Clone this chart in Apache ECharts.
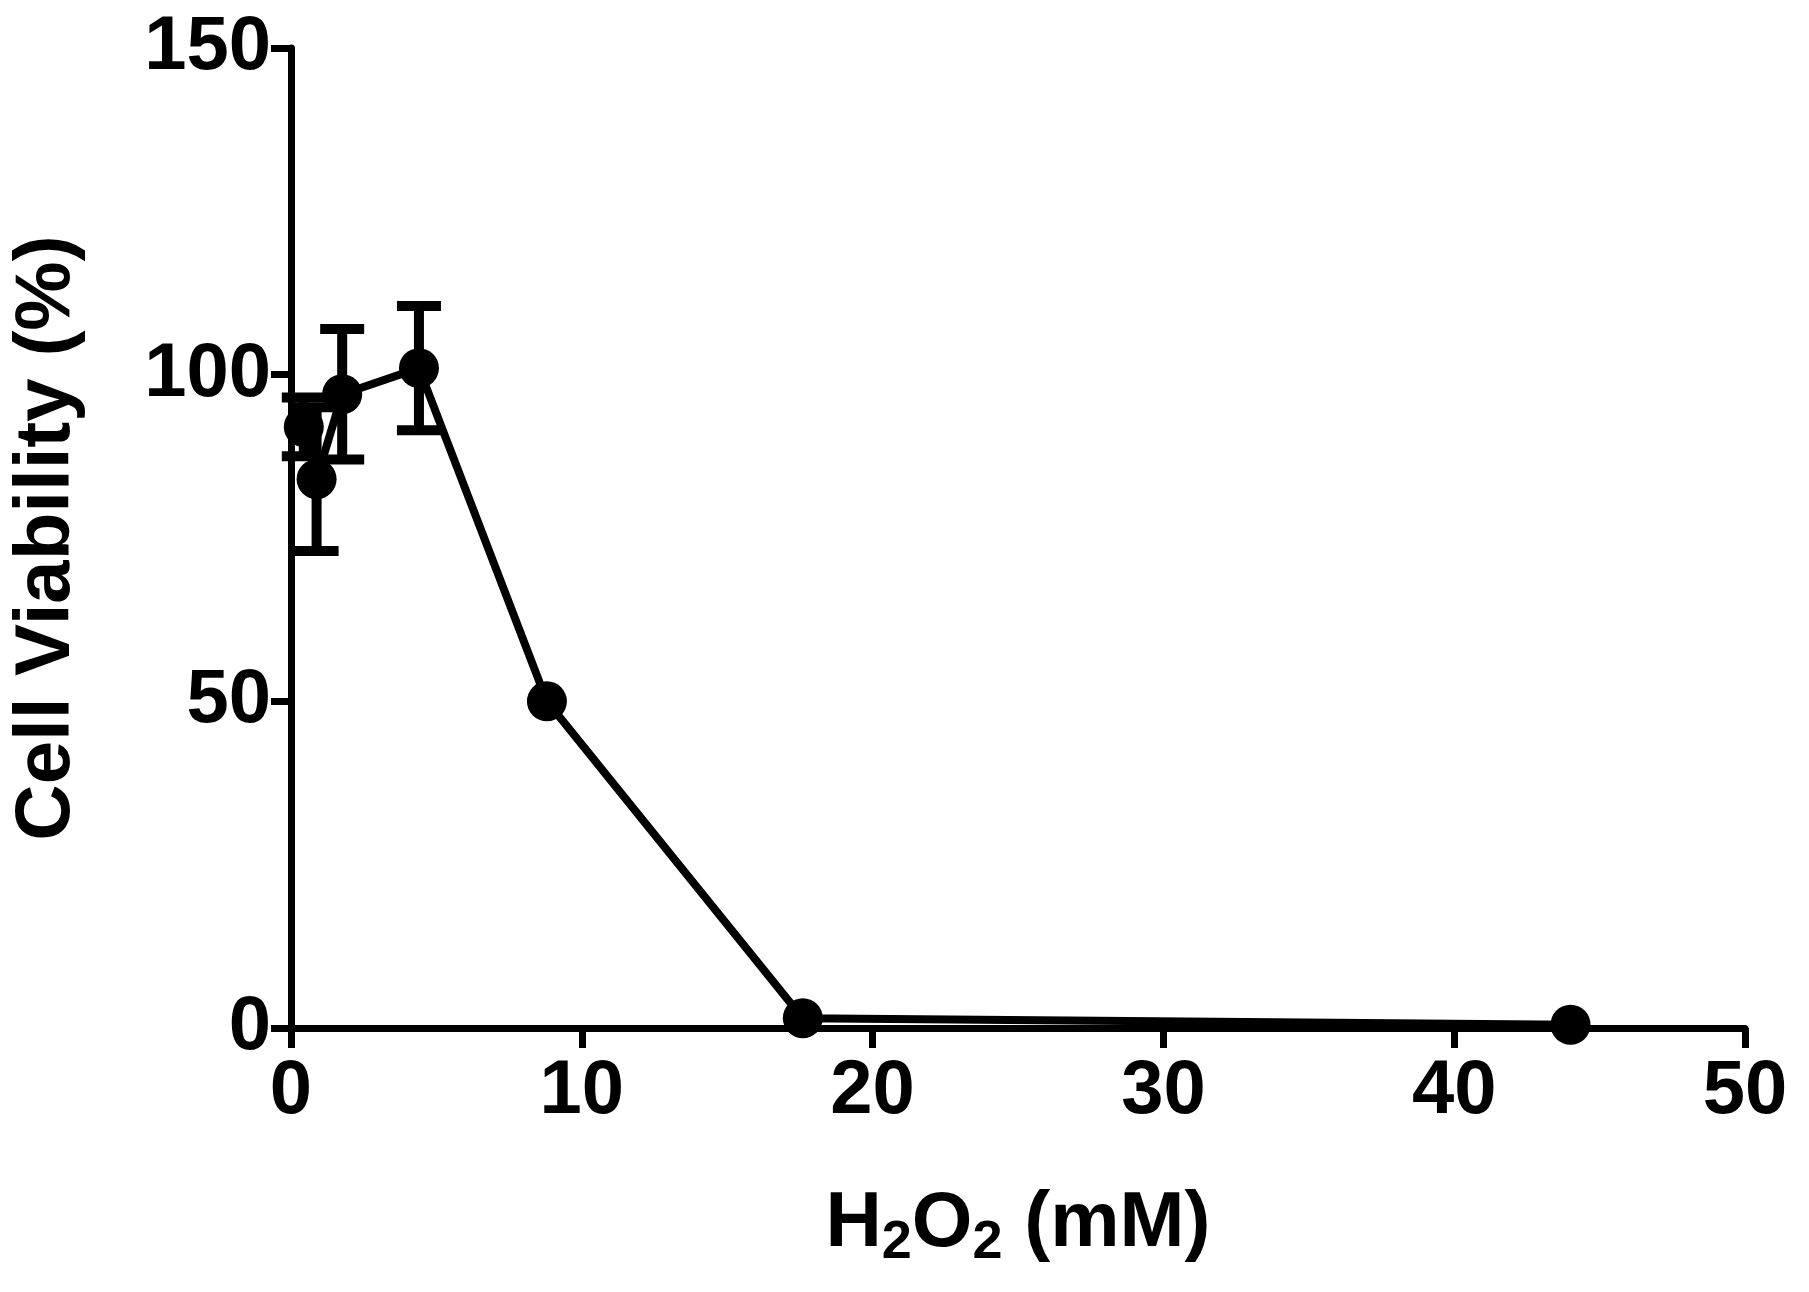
<!DOCTYPE html>
<html>
<head>
<meta charset="utf-8">
<script src="https://cdn.jsdelivr.net/npm/echarts@6/dist/echarts.min.js"></script>
<style>html,body{margin:0;padding:0;background:#fff}#c{width:1809px;height:1292px}</style>
</head>
<body>
<div id="c"></div>
<script>
var conc=[0.44,0.88,1.76,4.4,8.8,17.6,44];
var viability=[92,84,97,101,50,1.5,0.5];
var sem=[4.5,11,10,9.5,0,0,0];
var xTicks=[0,10,20,30,40,50];
var yTicks=[0,50,100,150];

var chart=echarts.init(document.getElementById('c'));
var pts=conc.map(function(x,i){return [x,viability[i]];});
var errs=conc.map(function(x,i){return [x,viability[i]-sem[i],viability[i]+sem[i]];}).filter(function(d,i){return sem[i]>0;});
var font='Liberation Sans';
chart.setOption({
  animation:false,
  grid:{left:284,right:64,top:48,bottom:264},
  xAxis:{type:'value',min:0,max:50,interval:10,
    name:'{a|H}{s|2}{a|O}{s|2}{a| (mM)}',nameLocation:'middle',nameGap:150,
    nameTextStyle:{rich:{a:{fontFamily:font,fontWeight:'bold',fontSize:78,color:'#000'},
      s:{fontFamily:font,fontWeight:'bold',fontSize:54,color:'#000',verticalAlign:'bottom',padding:[38,0,0,0]}}},
    axisLine:{lineStyle:{color:'#000',width:7}},
    axisTick:{length:20,lineStyle:{width:7,color:'#000'}},
    axisLabel:{fontFamily:font,fontWeight:'bold',fontSize:76,color:'#000',margin:26},
    splitLine:{show:false}},
  yAxis:{type:'value',min:0,max:150,interval:50,
    name:'Cell Viability (%)',nameLocation:'middle',nameGap:205,
    nameTextStyle:{fontFamily:font,fontWeight:'bold',fontSize:78,color:'#000'},
    axisLine:{lineStyle:{color:'#000',width:7}},
    axisTick:{length:20,lineStyle:{width:7,color:'#000'}},
    axisLabel:{fontFamily:font,fontWeight:'bold',fontSize:76,color:'#000',margin:20},
    splitLine:{show:false}},
  series:[
    {type:'custom',data:errs,z:3,renderItem:function(params,api){
      var top=api.coord([api.value(0),api.value(2)]);
      var bot=api.coord([api.value(0),api.value(1)]);
      var w=22,st={stroke:'#000',lineWidth:10};
      return {type:'group',children:[
        {type:'line',shape:{x1:top[0],y1:top[1],x2:bot[0],y2:bot[1]},style:st},
        {type:'line',shape:{x1:top[0]-w,y1:top[1],x2:top[0]+w,y2:top[1]},style:st},
        {type:'line',shape:{x1:bot[0]-w,y1:bot[1],x2:bot[0]+w,y2:bot[1]},style:st}]};
    }},
    {type:'line',data:pts,symbol:'circle',symbolSize:40,z:4,
      lineStyle:{color:'#000',width:8},itemStyle:{color:'#000'}}
  ]
});
</script>
</body>
</html>
